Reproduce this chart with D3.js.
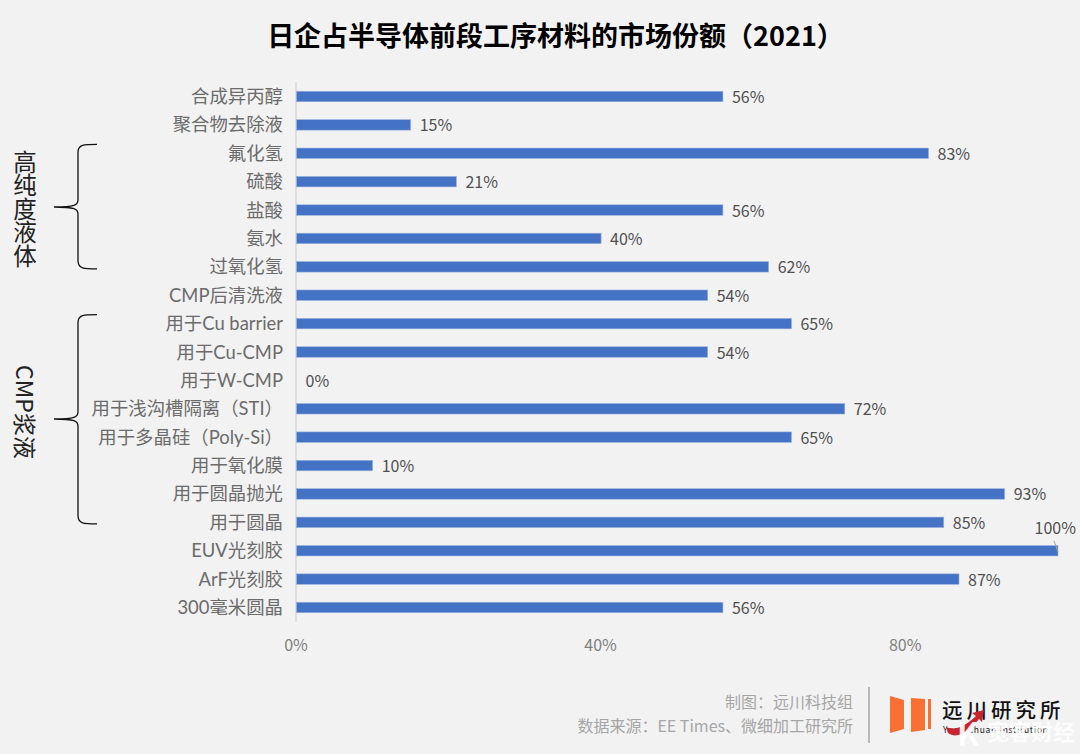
<!DOCTYPE html>
<html><head><meta charset="utf-8">
<script src="https://cdn.jsdelivr.net/npm/d3@7"></script>
<style>html,body{margin:0;padding:0;background:#f2f2f2;overflow:hidden}svg{display:block}text{font-family:"Noto Sans CJK SC","Noto Sans",sans-serif}text.cat{font-family:Lato,"Noto Sans CJK SC",sans-serif}</style>
</head><body><svg id="c" width="1080" height="754"></svg>
<script>
const categories=["合成异丙醇","聚合物去除液","氟化氢","硫酸","盐酸","氨水","过氧化氢","CMP后清洗液","用于Cu barrier","用于Cu-CMP","用于W-CMP","用于浅沟槽隔离（STI）","用于多晶硅（Poly-Si）","用于氧化膜","用于圆晶抛光","用于圆晶","EUV光刻胶","ArF光刻胶","300毫米圆晶"];
const shares=[56,15,83,21,56,40,62,54,65,54,0,72,65,10,93,85,100,87,56];
const xTicks=[0,40,80];
const groupOne=["氟化氢","过氧化氢"];
const groupTwo=["用于Cu barrier","用于圆晶"];
const svg=d3.select("#c");
const x=d3.scaleLinear().domain([0,100]).range([296.5,1058]);
const y=d3.scalePoint().domain(categories).range([96.5,607.5]);
const barH=10.5;
svg.append("text").attr("x",555.5).attr("y",46).attr("text-anchor","middle").attr("font-size",27).attr("font-weight",700).attr("fill","#000").text("日企占半导体前段工序材料的市场份额（2021）");
svg.append("line").attr("x1",x(0)-.5).attr("x2",x(0)-.5).attr("y1",82).attr("y2",622).attr("stroke","#d9d9d9").attr("stroke-width",1.5);
svg.selectAll("rect.bar").data(categories).join("rect").attr("class","bar")
 .attr("x",x(0)).attr("y",d=>y(d)-barH/2).attr("height",barH)
 .attr("width",(d,i)=>x(shares[i])-x(0)).attr("fill","#4472c4").attr("stroke","#9db4e0").attr("stroke-width",.6);
svg.selectAll("text.cat").data(categories).join("text").attr("class","cat")
 .attr("x",283).attr("y",d=>y(d)+6.5).attr("text-anchor","end").attr("font-size",18.4).attr("fill","#6b6b6b").text(d=>d);
svg.selectAll("text.val").data(categories).join("text").attr("class","val")
 .attr("x",(d,i)=>shares[i]===100?x(100)+18:x(shares[i])+9)
 .attr("y",(d,i)=>y(d)+(shares[i]===100?-17:6.5))
 .attr("text-anchor",(d,i)=>shares[i]===100?"end":"start")
 .attr("font-size",16).attr("fill","#505050").text((d,i)=>shares[i]+"%");
svg.append("line").attr("x1",x(100)-4).attr("y1",y("EUV光刻胶")-10).attr("x2",x(100)).attr("y2",y("EUV光刻胶")+1).attr("stroke","#a6a6a6").attr("stroke-width",1);
const axis=d3.axisBottom(x).tickValues(xTicks).tickFormat(d=>d+"%").tickSize(0);
const ag=svg.append("g").attr("transform","translate(-1,640)").call(axis);
ag.select(".domain").remove();
ag.selectAll("text").attr("font-size",16).attr("fill","#7f7f7f").attr("dy","0.71em").attr("y",0);
function brace(x1,xm,xt,y0,ym,y1){return `M${x1},${y0} C${xm+6},${y0} ${xm},${y0} ${xm},${y0+8} L${xm},${ym-7} C${xm},${ym-2} ${xm-3},${ym} ${xt},${ym} C${xm-3},${ym} ${xm},${ym+2} ${xm},${ym+7} L${xm},${y1-8} C${xm},${y1} ${xm+6},${y1} ${x1},${y1}`;}
svg.append("path").attr("d",brace(97,78,54,y(groupOne[0])-9,207,y(groupOne[1])+2)).attr("fill","none").attr("stroke","#111").attr("stroke-width",1.3);
svg.append("path").attr("d",brace(97,78,54,y(groupTwo[0])-9,419,y(groupTwo[1])+1.5)).attr("fill","none").attr("stroke","#111").attr("stroke-width",1.3);
svg.append("text").attr("x",25).attr("y",150).attr("font-size",23.5).attr("fill","#222").style("writing-mode","vertical-rl").attr("text-orientation","upright").text("高纯度液体");
svg.append("text").attr("transform","translate(16,365) rotate(90)").attr("font-size",23).attr("fill","#222").text("CMP浆液");
// footer
svg.append("text").attr("x",853).attr("y",708).attr("text-anchor","end").attr("font-size",16).attr("fill","#a6a6a6").text("制图：远川科技组");
svg.append("text").attr("x",853).attr("y",732).attr("text-anchor","end").attr("font-size",16).attr("fill","#a6a6a6").text("数据来源：EE Times、微细加工研究所");
svg.append("line").attr("x1",869).attr("x2",869).attr("y1",687).attr("y2",743).attr("stroke","#a6a6a6").attr("stroke-width",1.5);
svg.append("path").attr("d","M890,696 L904,700 L904,729 L890,733 Z").attr("fill","#f97035");
svg.append("path").attr("d","M911,698 L925,699 L925,730 L911,732 Z").attr("fill","#f97035");
svg.append("path").attr("d","M928,699 L931,699 L931,729 L928,729 Z").attr("fill","#f97035");
svg.append("text").attr("x",942).attr("y",718).attr("font-size",20.5).attr("font-weight",500).attr("fill","#111").attr("letter-spacing",4).text("远川研究所");
svg.append("text").attr("x",943).attr("y",733).attr("font-size",8.5).attr("fill","#222").attr("letter-spacing",.7).text("Yuan Chuan Institution");
svg.append("path").attr("d","M946,727 C958,732 968,723 976,716 L972,713 L984,710 L982,722 L979,719 C970,731 957,740 948,733 Z").attr("fill","#c8242b");
svg.append("text").attr("x",957).attr("y",746).attr("font-size",32).attr("font-weight",700).attr("fill","#fff").attr("opacity",.9).text("K");
svg.append("text").attr("x",987).attr("y",740).attr("font-size",22).attr("font-weight",700).attr("fill","#fff").attr("opacity",.8).text("宽客财经");
</script></body></html>
